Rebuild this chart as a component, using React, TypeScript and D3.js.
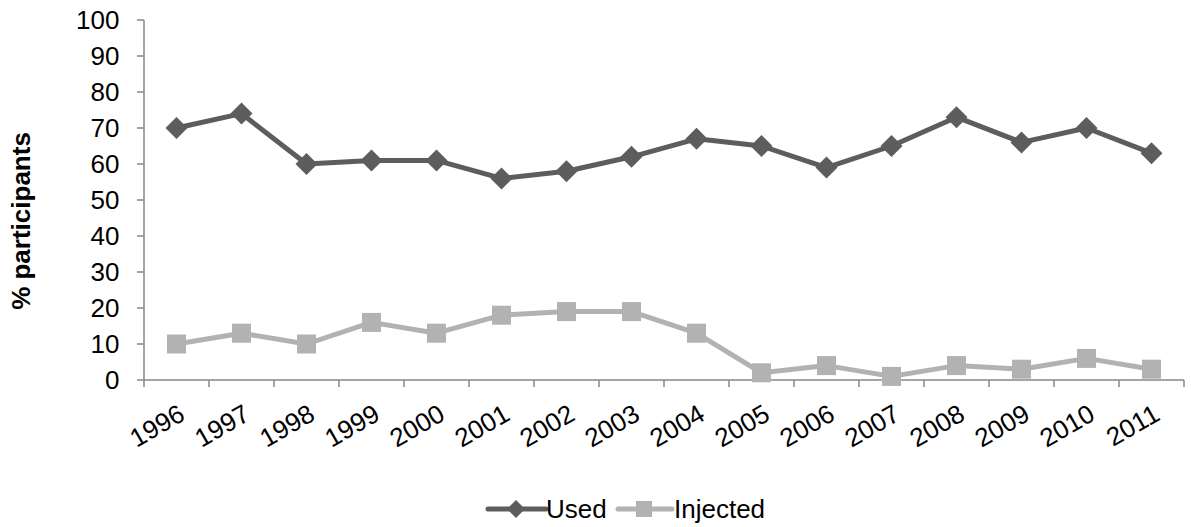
import React, { useEffect, useRef } from "react";
import * as d3 from "d3";

const years = ["1996","1997","1998","1999","2000","2001","2002","2003","2004","2005","2006","2007","2008","2009","2010","2011"];
const usedValues = [70, 74, 60, 61, 61, 56, 58, 62, 67, 65, 59, 65, 73, 66, 70, 63];
const injectedValues = [10, 13, 10, 16, 13, 18, 19, 19, 13, 2, 4, 1, 4, 3, 6, 3];
const yTicks = [0, 10, 20, 30, 40, 50, 60, 70, 80, 90, 100];

const W = 1191;
const H = 527;
const FONT = "'Liberation Sans', Arial, sans-serif";
const FS = 26;
const USED_COLOR = "#5d5d5d";
const INJ_COLOR = "#b2b2b2";
const AXIS_COLOR = "#878787";

export default function App() {
  const ref = useRef<SVGSVGElement>(null);

  useEffect(() => {
    const svg = d3.select(ref.current);
    svg.selectAll("*").remove();

    const left = 144, right = 1184, top = 20, bottom = 380;
    const x = d3.scaleBand<string>().domain(years).range([left, right]);
    const y = d3.scaleLinear().domain([0, 100]).range([bottom, top]);
    const cx = (i: number) => (x(years[i]) as number) + x.bandwidth() / 2;

    // y axis
    const yAxis = svg.append("g");
    yAxis.append("line").attr("x1", left).attr("x2", left).attr("y1", top).attr("y2", bottom)
      .attr("stroke", AXIS_COLOR).attr("stroke-width", 1.5);
    yTicks.forEach((t) => {
      yAxis.append("line").attr("x1", left - 7).attr("x2", left).attr("y1", y(t)).attr("y2", y(t))
        .attr("stroke", AXIS_COLOR).attr("stroke-width", 1.5);
      yAxis.append("text").attr("x", 119.5).attr("y", y(t)).attr("dy", "0.35em")
        .attr("text-anchor", "end").attr("font-family", FONT).attr("font-size", FS)
        .attr("fill", "#000").text(String(t));
    });

    // x axis
    const xAxis = svg.append("g");
    xAxis.append("line").attr("x1", left).attr("x2", right).attr("y1", bottom).attr("y2", bottom)
      .attr("stroke", AXIS_COLOR).attr("stroke-width", 1.5);
    const boundaries = years.map((yr) => x(yr) as number).concat([right]);
    boundaries.forEach((b) => {
      xAxis.append("line").attr("x1", b).attr("x2", b).attr("y1", bottom).attr("y2", bottom + 7)
        .attr("stroke", AXIS_COLOR).attr("stroke-width", 1.5);
    });
    years.forEach((yr, i) => {
      xAxis.append("text")
        .attr("transform", `translate(${cx(i) + 10},${419}) rotate(-30)`)
        .attr("text-anchor", "end")
        .attr("font-family", FONT).attr("font-size", FS).attr("fill", "#000")
        .text(yr);
    });

    // y title
    svg.append("text")
      .attr("transform", `translate(30,${221}) rotate(-90)`)
      .attr("text-anchor", "middle")
      .attr("font-family", FONT).attr("font-size", FS).attr("font-weight", "bold")
      .attr("fill", "#000").text("% participants");

    const line = d3.line<number>().x((_, i) => cx(i)).y((d) => y(d));

    const diamond = (g: d3.Selection<any, any, any, any>, px: number, py: number, r: number) =>
      g.append("path")
        .attr("d", `M${px},${py - r}L${px + r},${py}L${px},${py + r}L${px - r},${py}Z`)
        .attr("fill", USED_COLOR);
    const square = (g: d3.Selection<any, any, any, any>, px: number, py: number, s: number) =>
      g.append("rect").attr("x", px - s / 2).attr("y", py - s / 2).attr("width", s).attr("height", s)
        .attr("fill", INJ_COLOR);

    // Injected series
    const gi = svg.append("g");
    gi.append("path").attr("d", line(injectedValues)).attr("fill", "none")
      .attr("stroke", INJ_COLOR).attr("stroke-width", 5).attr("stroke-linejoin", "round");
    injectedValues.forEach((v, i) => square(gi, cx(i), y(v), 19));

    // Used series
    const gu = svg.append("g");
    gu.append("path").attr("d", line(usedValues)).attr("fill", "none")
      .attr("stroke", USED_COLOR).attr("stroke-width", 5).attr("stroke-linejoin", "round");
    usedValues.forEach((v, i) => diamond(gu, cx(i), y(v), 11));

    // legend
    const ly = 509;
    const lg = svg.append("g");
    lg.append("line").attr("x1", 488).attr("x2", 546).attr("y1", ly).attr("y2", ly)
      .attr("stroke", USED_COLOR).attr("stroke-width", 5).attr("stroke-linecap", "round");
    diamond(lg, 516, ly, 9);
    lg.append("text").attr("x", 546).attr("y", ly).attr("dy", "0.35em")
      .attr("font-family", FONT).attr("font-size", FS).attr("fill", "#000").text("Used");
    lg.append("line").attr("x1", 618).attr("x2", 672).attr("y1", ly).attr("y2", ly)
      .attr("stroke", INJ_COLOR).attr("stroke-width", 5).attr("stroke-linecap", "round");
    square(lg, 644, ly, 16);
    lg.append("text").attr("x", 674).attr("y", ly).attr("dy", "0.35em")
      .attr("font-family", FONT).attr("font-size", FS).attr("fill", "#000").text("Injected");
  }, []);

  return (
    <svg ref={ref} width={W} height={H}
      style={{ position: "absolute", left: 0, top: 0, background: "#fff", display: "block" }} />
  );
}
